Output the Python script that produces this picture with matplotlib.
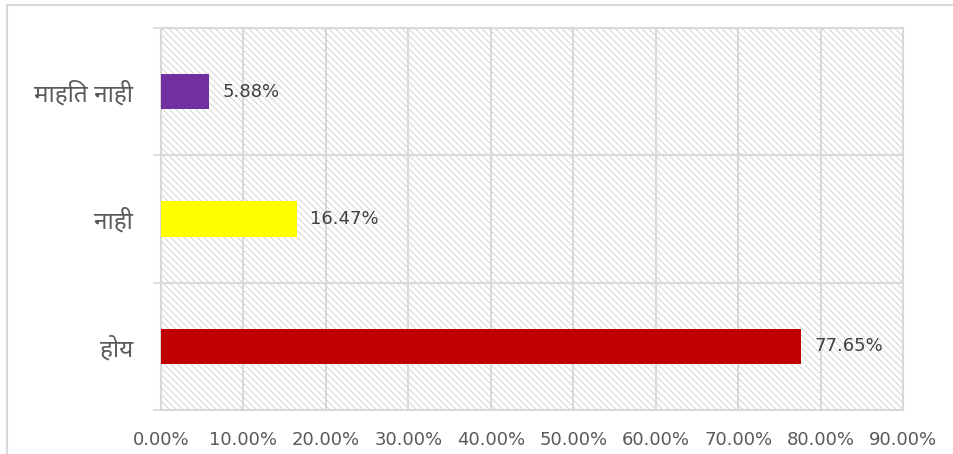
import matplotlib
matplotlib.use("Agg")
import matplotlib.pyplot as plt
from matplotlib.patches import Rectangle
from matplotlib.ticker import FuncFormatter, MultipleLocator


# ---------------- data ----------------
categories = ["होय", "नाही", "माहित नाही"]
values = [77.65, 16.47, 5.88]
bar_colors = ["#C00000", "#FFFF00", "#7030A0"]

GRID = "#d9d9d9"
TEXT = "#595959"

plt.rcParams["hatch.linewidth"] = 0.6
plt.rcParams["hatch.color"] = "#cccccc"

fig = plt.figure(figsize=(9.54, 4.54), dpi=100)
ax = fig.add_axes([161 / 954, 44 / 454, 742 / 954, 382 / 454])

# outer chart frame (only top / left edges fall inside the canvas)
fig.patches.append(Rectangle((7 / 954, -0.1), 1.2, 1.1 - 5 / 454,
                             transform=fig.transFigure, fill=False,
                             edgecolor=GRID, linewidth=1.5, zorder=0))

# diagonal hatched plot background
ax.add_patch(Rectangle((0, 0), 1, 1, transform=ax.transAxes,
                       facecolor="white", edgecolor="#cccccc",
                       hatch="\\" * 5, linewidth=0, zorder=0))

y = list(range(len(categories)))
ax.barh(y, values, height=0.28, color=bar_colors, zorder=3)

for yi, v in zip(y, values):
    ax.text(v + 1.6, yi, f"{v:.2f}%", va="center", ha="left",
            fontsize=13, color="#404040", family=["DejaVu Sans"], zorder=4)

ax.set_xlim(0, 90)
ax.set_ylim(-0.5, len(categories) - 0.5)

ax.xaxis.set_major_locator(MultipleLocator(10))
ax.xaxis.set_major_formatter(FuncFormatter(lambda x, _: f"{x:.2f}%"))
ax.set_yticks(y)
ax.set_yticklabels(categories, family=["Noto Sans Devanagari", "DejaVu Sans"],
                   fontsize=17.5, color=TEXT)
ax.set_yticks([i - 0.5 for i in range(len(categories) + 1)], minor=True)

for lbl in ax.get_xticklabels():
    lbl.set_family(["DejaVu Sans"])
ax.tick_params(axis="x", length=0, pad=15, labelsize=13, labelcolor=TEXT)
ax.tick_params(axis="y", which="major", length=0, pad=20)
ax.tick_params(axis="y", which="minor", length=6, width=1.2, color=GRID)

ax.grid(axis="x", which="major", color=GRID, linewidth=1.5, zorder=1)
ax.grid(axis="y", which="minor", color=GRID, linewidth=1.5, zorder=1)
ax.set_axisbelow(True)

for s in ax.spines.values():
    s.set_color(GRID)
    s.set_linewidth(1.5)

fig.savefig("out.png", dpi=100)
